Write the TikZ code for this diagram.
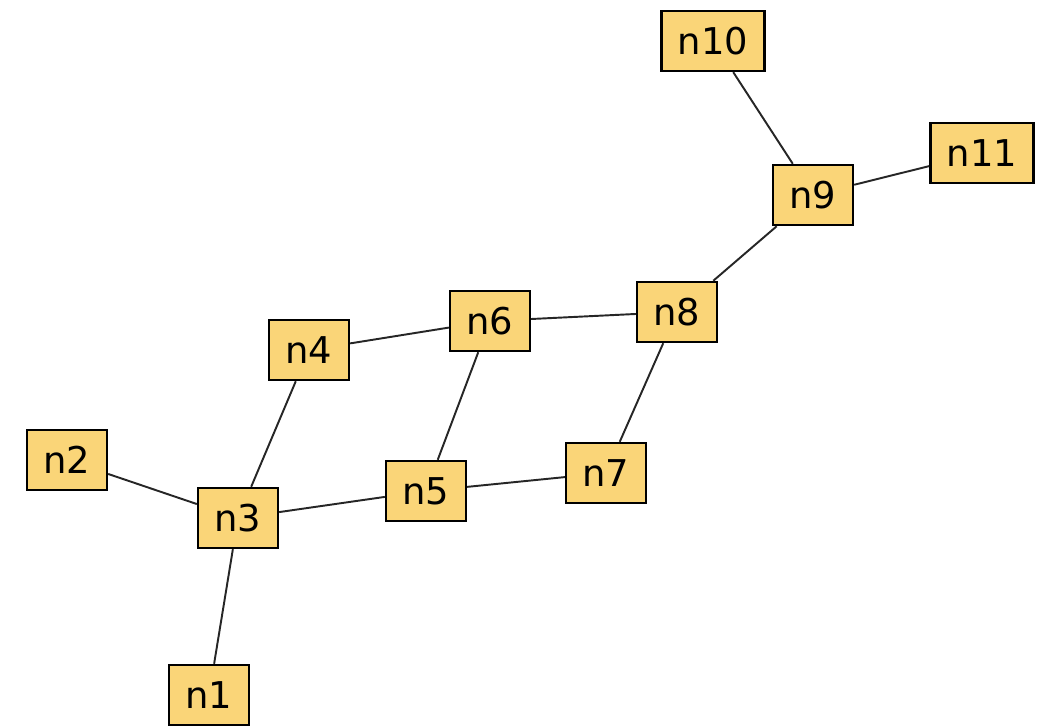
\documentclass[tikz,border=0pt]{standalone}
\usepackage{fontspec}
\setsansfont{DejaVu Sans}
\usepackage{xcolor}
\usepackage{tikz}
\definecolor{boxfill}{RGB}{250,213,120}
\tikzset{
	netnode/.style={draw=black, line width=1.4pt, fill=boxfill, inner xsep=0.33cm, minimum height=1.2cm, font=\sffamily\fontsize{21}{21}\selectfont},
	netlink/.style={black!85, line width=1.1pt}
}

\begin{document}
\begin{tikzpicture}
		%frame
		\useasboundingbox (0,0) rectangle (20.86,14.52);
		
		%nodes
		\node[netnode] (n10) at (14.26,13.70) {n10};
		\node[netnode] (n11) at (19.64,11.46) {n11};
		\node[netnode] (n9) at (16.26,10.62) {n9};
		\node[netnode] (n8) at (13.54,8.28) {n8};
		\node[netnode] (n6) at (9.80,8.10) {n6};
		\node[netnode] (n4) at (6.18,7.52) {n4};
		\node[netnode] (n2) at (1.34,5.32) {n2};
		\node[netnode] (n3) at (4.76,4.16) {n3};
		\node[netnode] (n5) at (8.52,4.70) {n5};
		\node[netnode] (n7) at (12.12,5.06) {n7};
		\node[netnode] (n1) at (4.18,0.62) {n1};
		
		%links
		\draw[netlink] (n10) -- (n9);
		\draw[netlink] (n9) -- (n11);
		\draw[netlink] (n9) -- (n8);
		\draw[netlink] (n8) -- (n6);
		\draw[netlink] (n8) -- (n7);
		\draw[netlink] (n6) -- (n4);
		\draw[netlink] (n6) -- (n5);
		\draw[netlink] (n4) -- (n3);
		\draw[netlink] (n2) -- (n3);
		\draw[netlink] (n3) -- (n5);
		\draw[netlink] (n5) -- (n7);
		\draw[netlink] (n3) -- (n1);
	\end{tikzpicture}
\end{document}
